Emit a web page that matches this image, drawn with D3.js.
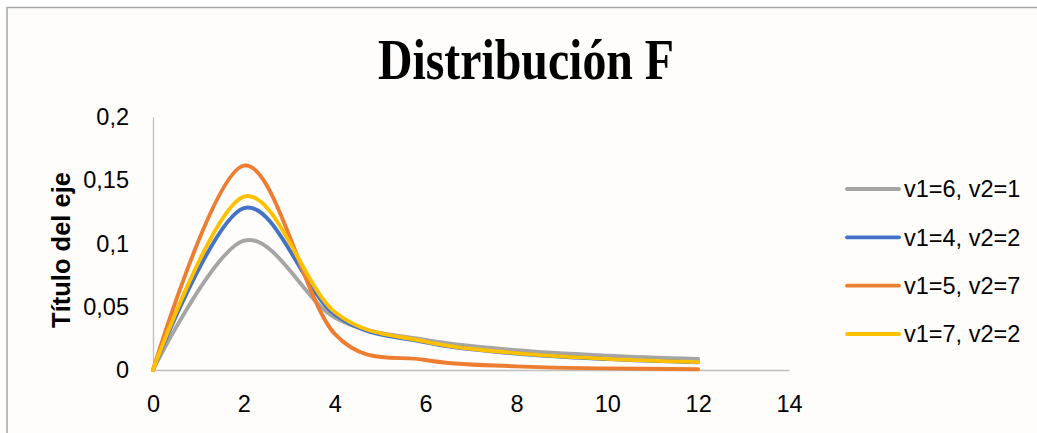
<!DOCTYPE html>
<html>
<head>
<meta charset="utf-8">
<script src="https://cdn.jsdelivr.net/npm/d3@7"></script>
<style>
  html, body { margin: 0; padding: 0; background: #ffffff; }
  svg { display: block; }
</style>
</head>
<body>
<svg id="chart" width="1037" height="433"></svg>
<script>
// x positions shared by every series
const xValues = [0, 2, 4, 6, 8, 10, 12];

// density values per series
const seriesV6V1 = [0, 0.1022, 0.0415, 0.0237, 0.0157, 0.0114, 0.0088];
const seriesV4V2 = [0, 0.1280, 0.0439, 0.0218, 0.0130, 0.0086, 0.0061];
const seriesV5V7 = [0, 0.1615, 0.0285, 0.0079, 0.0029, 0.0013, 0.0006];
const seriesV7V2 = [0, 0.1371, 0.0458, 0.0225, 0.0133, 0.0088, 0.0062];

const seriesNames = ["v1=6, v2=1", "v1=4, v2=2", "v1=5, v2=7", "v1=7, v2=2"];
const seriesColors = ["#A5A5A5", "#4472C4", "#ED7D31", "#FFC000"];

const xTicks = [0, 2, 4, 6, 8, 10, 12, 14];
const yTicks = [0, 0.05, 0.1, 0.15, 0.2];
const yTickLabels = ["0", "0,05", "0,1", "0,15", "0,2"];

const titleText = "Distribución F";
const yTitleText = "Título del eje";

const series = [seriesV6V1, seriesV4V2, seriesV5V7, seriesV7V2].map((vals, i) => ({
  name: seriesNames[i],
  color: seriesColors[i],
  points: xValues.map((x, j) => ({ x, y: vals[j] }))
}));

const svg = d3.select("#chart");

// chart area with thin frame
svg.append("rect")
  .attr("x", 7).attr("y", 7.5)
  .attr("width", 1040).attr("height", 440)
  .attr("fill", "#fefdfb")
  .attr("stroke", "#a6a6a6")
  .attr("stroke-width", 1.5);

const x = d3.scaleLinear().domain([0, 14]).range([153, 789]);
const y = d3.scaleLinear().domain([0, 0.2]).range([370, 117]);

const tickFont = "'Liberation Sans', Arial, sans-serif";

// title
svg.append("text")
  .attr("x", 526).attr("y", 79)
  .attr("text-anchor", "middle")
  .attr("font-family", "'Liberation Serif', 'Times New Roman', serif")
  .attr("font-weight", "bold")
  .attr("font-size", 58)
  .attr("textLength", 296)
  .attr("lengthAdjust", "spacingAndGlyphs")
  .attr("fill", "#000")
  .text(titleText);

// y axis
const yAxis = d3.axisLeft(y)
  .tickValues(yTicks)
  .tickSize(0)
  .tickPadding(24)
  .tickFormat((d, i) => yTickLabels[i]);
const gy = svg.append("g").attr("transform", `translate(${x(0)},0)`).call(yAxis);
gy.select(".domain").attr("stroke", "#bfbfbf").attr("stroke-width", 1.3);
gy.selectAll("text")
  .attr("font-family", tickFont)
  .attr("font-size", 23.5)
  .attr("fill", "#000");

// x axis
const xAxis = d3.axisBottom(x)
  .tickValues(xTicks)
  .tickSize(0)
  .tickPadding(25)
  .tickFormat(d3.format("d"));
const gx = svg.append("g").attr("transform", `translate(0,${y(0)})`).call(xAxis);
gx.select(".domain").attr("stroke", "#bfbfbf").attr("stroke-width", 1.3);
gx.selectAll("text")
  .attr("font-family", tickFont)
  .attr("font-size", 23.5)
  .attr("fill", "#000");

// y axis title
svg.append("text")
  .attr("transform", "translate(70,250) rotate(-90)")
  .attr("text-anchor", "middle")
  .attr("font-family", tickFont)
  .attr("font-weight", "bold")
  .attr("font-size", 25.5)
  .attr("fill", "#000")
  .text(yTitleText);

// smoothed series lines
const line = d3.line()
  .x(d => x(d.x))
  .y(d => y(d.y))
  .curve(d3.curveCardinal.tension(0));

svg.append("g")
  .selectAll("path")
  .data(series)
  .join("path")
  .attr("d", d => line(d.points))
  .attr("fill", "none")
  .attr("stroke", d => d.color)
  .attr("stroke-width", 3.9)
  .attr("stroke-linecap", "round")
  .attr("stroke-linejoin", "round");

// legend
const legend = svg.append("g");
const legendY = d3.scalePoint().domain(seriesNames).range([189, 334]);
const items = legend.selectAll("g")
  .data(series)
  .join("g")
  .attr("transform", d => `translate(0,${legendY(d.name)})`);
items.append("line")
  .attr("x1", 847).attr("x2", 899)
  .attr("y1", 0).attr("y2", 0)
  .attr("stroke", d => d.color)
  .attr("stroke-width", 3.9)
  .attr("stroke-linecap", "round");
items.append("text")
  .attr("x", 904).attr("y", 0)
  .attr("dy", "0.35em")
  .attr("font-family", tickFont)
  .attr("font-size", 23.5)
  .attr("fill", "#000")
  .text(d => d.name);
</script>
</body>
</html>
